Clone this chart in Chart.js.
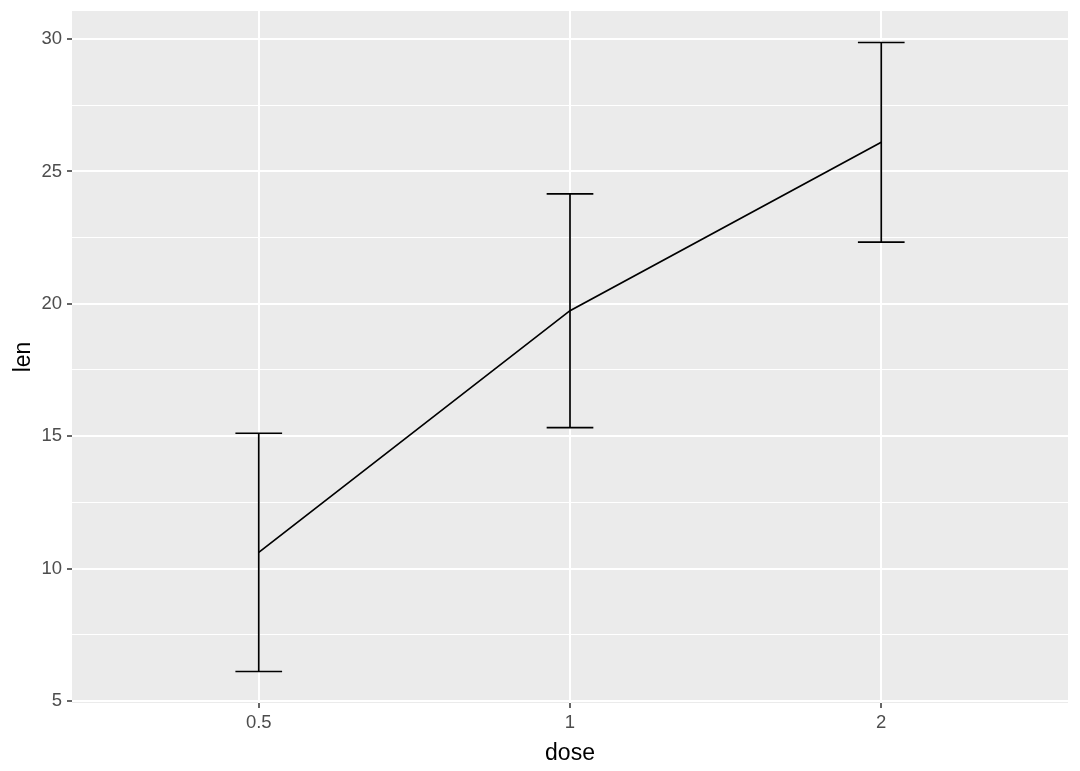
<!DOCTYPE html>
<html>
<head>
<meta charset="utf-8">
<script src="https://cdn.jsdelivr.net/npm/chart.js@4"></script>
<style>
  html, body { margin: 0; padding: 0; background: #fff; }
  #wrap { width: 1080px; height: 771px; }
</style>
</head>
<body>
<div id="wrap"><canvas id="len" aria-label="line chart with error bars" role="img"></canvas></div>
<script>
// values (ToothGrowth, mean +/- sd)
const doses = ["0.5", "1", "2"];
const lenMean = [10.61, 19.74, 26.10];
const lenLow = [6.11, 15.32, 22.33];
const lenHigh = [15.11, 24.15, 29.87];
const yMajor = [5, 10, 15, 20, 25, 30];
const yMinor = [7.5, 12.5, 17.5, 22.5, 27.5];

var panelBg = {
  id: "panelBg",
  beforeDraw: function (chart) {
    var a = chart.chartArea;
    var ctx = chart.ctx;
    ctx.save();
    ctx.fillStyle = "#EBEBEB";
    ctx.fillRect(a.left, a.top, a.right - a.left, a.bottom - a.top);
    ctx.restore();
  },
};

var errorBars = {
  id: "errorBars",
  afterDatasetsDraw: function (chart) {
    var ctx = chart.ctx;
    var xs = chart.scales.x;
    var ys = chart.scales.y;
    var half = 0.075;
    ctx.save();
    ctx.strokeStyle = "#000";
    ctx.lineWidth = 1.7;
    for (var i = 0; i < doses.length; i++) {
      var x = xs.getPixelForValue(i);
      var x0 = xs.getPixelForValue(i - half);
      var x1 = xs.getPixelForValue(i + half);
      var yl = ys.getPixelForValue(lenLow[i]);
      var yh = ys.getPixelForValue(lenHigh[i]);
      ctx.beginPath();
      ctx.moveTo(x, yl);
      ctx.lineTo(x, yh);
      ctx.moveTo(x0, yl);
      ctx.lineTo(x1, yl);
      ctx.moveTo(x0, yh);
      ctx.lineTo(x1, yh);
      ctx.stroke();
    }
    ctx.restore();
  },
};

var isMajor = function (v) {
  return yMajor.indexOf(v) !== -1;
};

var fontFam = "'Liberation Sans', Arial, sans-serif";

var chart = document.getElementById("len").getContext("2d");
var myChart = new Chart(chart, {
  type: "line",
  data: {
    datasets: [
      {
        label: "len",
        data: lenMean.map(function (v, i) { return { x: i, y: v }; }),
        borderColor: "#000",
        borderWidth: 1.7,
        pointRadius: 0,
        fill: false,
        tension: 0,
      },
    ],
  },
  options: {
    responsive: true,
    maintainAspectRatio: false,
    animation: false,
    layout: { padding: { left: 0, top: 11, right: 12, bottom: 0 } },
    plugins: {
      legend: { display: false },
      tooltip: { enabled: false },
    },
    scales: {
      x: {
        type: "linear",
        min: -0.6,
        max: 2.6,
        afterBuildTicks: function (scale) {
          scale.ticks = doses.map(function (d, i) { return { value: i }; });
        },
        afterFit: function (scale) {
          scale.height = 68;
          scale.paddingLeft = 0;
          scale.paddingRight = 0;
        },
        border: { display: false },
        grid: {
          color: "#FFFFFF",
          lineWidth: 2,
          tickColor: "#333333",
          tickWidth: 1.5,
          tickLength: 5,
        },
        ticks: {
          autoSkip: false,
          maxRotation: 0,
          padding: 4,
          color: "#4D4D4D",
          font: { family: fontFam, size: 18.5 },
          callback: function (v) {
            return doses[v];
          },
        },
        title: {
          display: true,
          text: "dose",
          color: "#000",
          padding: { top: 4, bottom: 4 },
          font: { family: fontFam, size: 23 },
        },
      },
      y: {
        min: 4.92,
        max: 31.06,
        afterBuildTicks: function (scale) {
          scale.ticks = yMajor.concat(yMinor)
            .sort(function (a, b) { return a - b; })
            .map(function (v) { return { value: v }; });
        },
        afterFit: function (scale) {
          scale.width = 72;
          scale.paddingTop = 0;
          scale.paddingBottom = 0;
        },
        border: { display: false },
        grid: {
          color: "#FFFFFF",
          lineWidth: function (c) { return isMajor(c.tick.value) ? 2 : 1; },
          tickColor: function (c) { return isMajor(c.tick.value) ? "#333333" : "rgba(0,0,0,0)"; },
          tickWidth: 1.5,
          tickLength: 5,
        },
        ticks: {
          autoSkip: false,
          padding: 5,
          color: "#4D4D4D",
          font: { family: fontFam, size: 18.5 },
          callback: function (v) {
            return isMajor(v) ? String(v) : "";
          },
        },
        title: {
          display: true,
          text: "len",
          color: "#000",
          padding: { top: 10, bottom: 4 },
          font: { family: fontFam, size: 23 },
        },
      },
    },
  },
  plugins: [panelBg, errorBars],
});
</script>
</body>
</html>
